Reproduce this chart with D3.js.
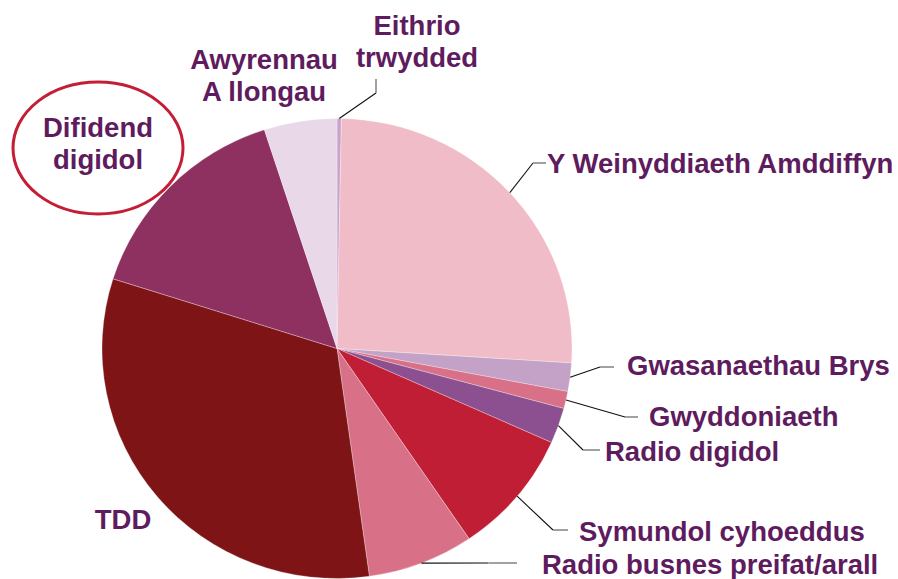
<!DOCTYPE html>
<html>
<head>
<meta charset="utf-8">
<script src="https://cdn.jsdelivr.net/npm/d3@7"></script>
<style>
  body { margin: 0; background: #fff; }
  svg { display: block; }
  .lbl { font-family: "Liberation Sans", Arial, sans-serif; font-weight: bold; font-size: 27.5px; fill: #5e1b5e; }
</style>
</head>
<body>
<div id="chart"></div>
<script>
// slices, clockwise from 12 o'clock (share of spectrum, %)
categories = ["Eithrio trwydded", "Y Weinyddiaeth Amddiffyn", "Gwasanaethau Brys", "Gwyddoniaeth",
    "Radio digidol", "Symundol cyhoeddus", "Radio busnes preifat/arall", "TDD", "Difidend digidol",
    "Awyrennau A Llongau"]
values = [0.3, 25.7, 2.0, 1.2, 2.5, 8.8, 7.3, 32.1, 15.1, 5.0]
colors = ["#c8a4cc", "#f0bcc8", "#c4a2c8", "#d87088", "#8c5090", "#c01e34", "#d87088", "#7e1416", "#8e3060", "#e8d8e8"]

// text lines shown for each slice
label_lines = [["Eithrio", "trwydded"], ["Y Weinyddiaeth Amddiffyn"], ["Gwasanaethau Brys"], ["Gwyddoniaeth"],
    ["Radio digidol"], ["Symundol cyhoeddus"], ["Radio busnes preifat/arall"], ["TDD"], ["Difidend", "digidol"],
    ["Awyrennau", "A llongau"]]

var width = 898, height = 579
var cx = 337, cy = 348.5, rx = 235, ry = 230

// where each label sits, and the bend of its leader line (null = no leader)
var layout = [
    {x: 417, y: 35, anchor: "middle", bend: [376, 93], end: [376, 79]},
    {x: 547, y: 173, anchor: "start", bend: [533, 163], end: [546, 163]},
    {x: 627, y: 375, anchor: "start", bend: [600, 367], end: [614, 367]},
    {x: 649, y: 426, anchor: "start", bend: [625, 417], end: [638, 417]},
    {x: 605, y: 461, anchor: "start", bend: [583, 450], end: [600, 450]},
    {x: 579, y: 541, anchor: "start", bend: [553, 530], end: [568, 530]},
    {x: 542, y: 574, anchor: "start", bend: null, end: [517, 563]},
    {x: 123, y: 529, anchor: "middle", bend: null, end: null},
    {x: 98, y: 137, anchor: "middle", bend: null, end: null},
    {x: 264, y: 69, anchor: "middle", bend: null, end: null}
]

var svg = d3.select("#chart").append("svg")
    .attr("width", width)
    .attr("height", height)

var pie = d3.pie().sort(null).value(function (d) { return d })
var arcs = pie(values)

var arc = d3.arc().innerRadius(0).outerRadius(ry)

// pie is a bit wider than tall in the original
var g = svg.append("g")
    .attr("transform", "translate(" + cx + "," + cy + ") scale(" + (rx / ry) + ",1)")

g.selectAll("path")
    .data(arcs)
    .enter().append("path")
    .attr("d", arc)
    .attr("fill", function (d, i) { return colors[i] })
    .attr("stroke", "#ffffff")
    .attr("stroke-opacity", 0.5)
    .attr("stroke-width", 0.6)
    .attr("vector-effect", "non-scaling-stroke")

// leader lines
arcs.forEach(function (d, i) {
    var L = layout[i]
    if (!L.end) return
    var mid = (d.startAngle + d.endAngle) / 2
    var p0 = [cx + rx * Math.sin(mid), cy - ry * Math.cos(mid)]
    var pts = L.bend ? [p0, L.bend] : [p0, [p0[0] + (L.end[0] - p0[0]) * 0.7, L.end[1]]]
    svg.append("path")
        .attr("d", d3.line()(pts))
        .attr("fill", "none")
        .attr("stroke", "#111")
        .attr("stroke-width", 1.1)
    svg.append("path")
        .attr("d", d3.line()([pts[1], L.end]))
        .attr("fill", "none")
        .attr("stroke", "#8a8a8a")
        .attr("stroke-width", 1.6)
})

// labels
layout.forEach(function (L, i) {
    var t = svg.append("text")
        .attr("class", "lbl")
        .attr("text-anchor", L.anchor)
    label_lines[i].forEach(function (s, k) {
        t.append("tspan")
            .attr("x", L.x)
            .attr("y", L.y + k * 32)
            .text(s)
    })
})

// red ring round "Difidend digidol"
svg.append("ellipse")
    .attr("cx", 98)
    .attr("cy", 148)
    .attr("rx", 85)
    .attr("ry", 66)
    .attr("fill", "none")
    .attr("stroke", "#c41e36")
    .attr("stroke-width", 3)
</script>
</body>
</html>
